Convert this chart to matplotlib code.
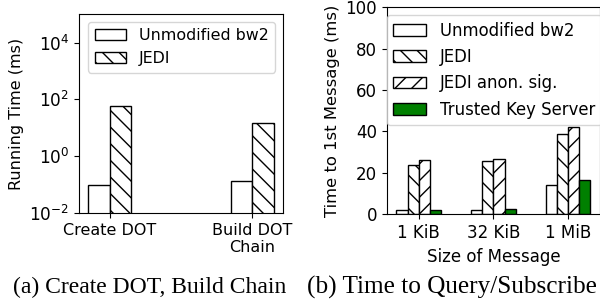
# running time of DOT ops and time to first message, two panels side by side
import matplotlib
matplotlib.use("Agg")
import matplotlib.pyplot as plt
import numpy as np

# panel (a) data, log scale
opLabels = ["Create DOT", "Build DOT\nChain"]
opBw2 = [0.1, 0.135]
opJedi = [56, 14.8]

# panel (b) data
sizeLabels = ["1 KiB", "32 KiB", "1 MiB"]
qsBw2 = [1.9, 2.2, 14.1]
qsJedi = [24.0, 25.6, 38.9]
qsJediAnon = [26.4, 26.7, 42.3]
qsKeyServer = [2.0, 2.7, 16.6]

plt.rcParams['font.size'] = 11.5
plt.rcParams['hatch.linewidth'] = 1.0

fig = plt.figure(figsize=(6, 3), dpi=100)
ax1 = fig.add_axes([0.1317, 0.29, 0.34, 0.663])
ax2 = fig.add_axes([0.6445, 0.2857, 0.3555, 0.69])

w = 0.15
bar_kw = dict(color="white", edgecolor="black", linewidth=1)

# left panel
x = np.arange(len(opLabels))
ax1.bar(x - w / 2, opBw2, w, label="Unmodified bw2", **bar_kw)
ax1.bar(x + w / 2, opJedi, w, hatch="\\\\", label="JEDI", **bar_kw)
ax1.set_yscale("log")
ax1.set_ylim(1e-2, 1e5)
ax1.set_yticks([1e-2, 1, 1e2, 1e4])
ax1.yaxis.set_minor_locator(matplotlib.ticker.NullLocator())
ax1.tick_params(axis="y", labelsize=12.2)
ax1.set_xticks(x)
ax1.set_xticklabels(opLabels)
ax1.set_ylabel("Running Time (ms)")
ax1.legend(loc="upper right", fontsize=11.4)

# right panel, a bit larger text
x2 = np.arange(len(sizeLabels))
ax2.bar(x2 - 1.5 * w, qsBw2, w, label="Unmodified bw2", **bar_kw)
ax2.bar(x2 - 0.5 * w, qsJedi, w, hatch="\\\\", label="JEDI", **bar_kw)
ax2.bar(x2 + 0.5 * w, qsJediAnon, w, hatch="//", label="JEDI anon. sig.", **bar_kw)
ax2.bar(x2 + 1.5 * w, qsKeyServer, w, color="green", edgecolor="black",
        linewidth=1, label="Trusted Key Server")
ax2.set_ylim(0, 100)
ax2.set_xticks(x2)
ax2.set_xticklabels(sizeLabels)
ax2.tick_params(labelsize=12)
ax2.set_xlabel("Size of Message", fontsize=12)
ax2.set_ylabel("Time to 1st Message (ms)", fontsize=11.8)
ax2.legend(loc="upper left", bbox_to_anchor=(0.0, 0.962), borderaxespad=0,
           fontsize=11.9)

# captions under each panel
fig.text(0.249, 0.043, "(a) Create DOT, Build Chain", ha="center", va="center",
         family="Liberation Serif", fontsize=17)
fig.text(0.753, 0.043, "(b) Time to Query/Subscribe", ha="center", va="center",
         family="Liberation Serif", fontsize=18.2)

fig.savefig("out.png", dpi=100)
